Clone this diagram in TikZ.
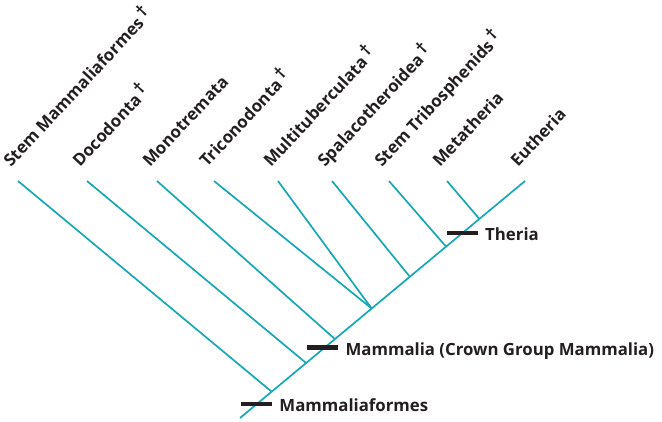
\documentclass[tikz,border=0pt]{standalone}
\usepackage{fontspec}
\setmainfont{Open Sans}
\usetikzlibrary{positioning,calc}
\definecolor{CladeTeal}{HTML}{17A8B6}
\definecolor{CladeInk}{HTML}{231F20}
\newcommand{\extinct}{\,\raisebox{0.3em}{\fontsize{17}{17}\selectfont †}}

\begin{document}
\begin{tikzpicture}[x=1pt,y=1pt,
    branch/.style={CladeTeal,line width=1.7pt},
    taxon/.style={rotate=47,anchor=base west,inner sep=0pt,text=CladeInk,
      font=\bfseries\fontsize{16.8}{16.8}\selectfont},
    synbar/.style={fill=CladeInk,inner sep=0pt,minimum width=31pt,minimum height=4.5pt},
    cladelbl/.style={anchor=base west,inner sep=0pt,text=CladeInk,
      font=\bfseries\fontsize{16.8}{16.8}\selectfont}]
  \useasboundingbox (0,0) rectangle (662,422);
  % main stem
  \coordinate (root) at (240,4);
  \coordinate (tEu) at (525,241);
  \draw[branch] (root) -- (tEu);
  % nodes along the stem
  \coordinate (nA) at ($(root)!0.111!(tEu)$);
  \coordinate (nB) at ($(root)!0.232!(tEu)$);
  \coordinate (nC) at ($(root)!0.333!(tEu)$);
  \coordinate (nD) at ($(root)!0.462!(tEu)$);
  \coordinate (nE) at ($(root)!0.596!(tEu)$);
  \coordinate (nF) at ($(root)!0.723!(tEu)$);
  \coordinate (nG) at ($(root)!0.840!(tEu)$);
  % tips
  \coordinate (tSM) at (18,241);
  \coordinate (tDo) at (87,241);
  \coordinate (tMo) at (157,241);
  \coordinate (tTr) at (214,241);
  \coordinate (tMu) at (278,241);
  \coordinate (tSp) at (332,241);
  \coordinate (tST) at (389,241);
  \coordinate (tMe) at (447,241);
  \draw[branch] (tSM) -- (nA);
  \draw[branch] (tDo) -- (nB);
  \draw[branch] (tMo) -- (nC);
  \draw[branch] (tTr) -- (nD);
  \draw[branch] (tMu) -- (nD);
  \draw[branch] (tSp) -- (nE);
  \draw[branch] (tST) -- (nF);
  \draw[branch] (tMe) -- (nG);
  % taxon names
  \node[taxon] (lSM) at ($(tSM)+(-7,13)$) {Stem Mammaliaformes\extinct};
  \node[taxon] (lDo) at ($(tDo)+(-7,13)$) {Docodonta\extinct};
  \node[taxon] (lMo) at ($(tMo)+(-7,13)$) {Monotremata};
  \node[taxon] (lTr) at ($(tTr)+(-7,13)$) {Triconodonta\extinct};
  \node[taxon] (lMu) at ($(tMu)+(-7,13)$) {Multituberculata\extinct};
  \node[taxon] (lSp) at ($(tSp)+(-7,13)$) {Spalacotheroidea\extinct};
  \node[taxon] (lST) at ($(tST)+(-7,13)$) {Stem Tribosphenids\extinct};
  \node[taxon] (lMe) at ($(tMe)+(-7,13)$) {Metatheria};
  \node[taxon] (lEu) at ($(tEu)+(-7,13)$) {Eutheria};
  % clade bars
  \node[synbar] (bMf) at ($(root)!0.058!(tEu)$) {};
  \node[synbar] (bMa) at ($(root)!0.297!(tEu)+(-2,0)$) {};
  \node[synbar] (bTh) at ($(root)!0.780!(tEu)$) {};
  \node[cladelbl] (cMf) at ($(bMf.east)+(7,-7.5)$) {Mammaliaformes};
  \node[cladelbl] (cMa) at ($(bMa.east)+(7,-7.5)$) {Mammalia (Crown Group Mammalia)};
  \node[cladelbl] (cTh) at ($(bTh.east)+(7,-7.5)$) {Theria};
\end{tikzpicture}
\end{document}
